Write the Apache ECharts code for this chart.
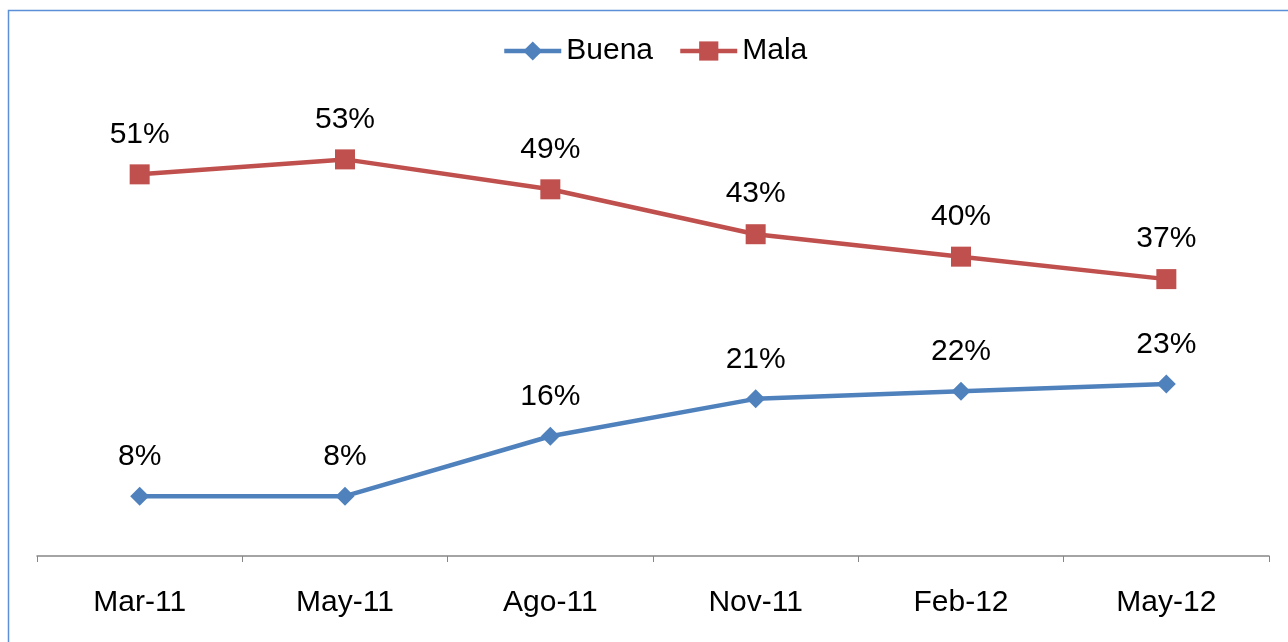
<!DOCTYPE html>
<html lang="es">
<head>
    <meta charset="utf-8" />
    <title>Buena / Mala</title>
    <script type="text/javascript" src="https://cdn.jsdelivr.net/npm/echarts@6/dist/echarts.min.js"></script>
    <style type="text/css">
        html, body { margin: 0; padding: 0; background: #fff; }
    </style>
</head>
<body>
    <div id="main" style="width:1288px;height:642px;"></div>

    <script type="text/javascript">
        var categories = ['Mar-11', 'May-11', 'Ago-11', 'Nov-11', 'Feb-12', 'May-12'];
        var buena = [8, 8, 16, 21, 22, 23];
        var mala = [51, 53, 49, 43, 40, 37];

        var font = 'Arial, "Liberation Sans", sans-serif';
        var myChart = echarts.init(document.getElementById('main'));

        var option = {
            animation: false,
            backgroundColor: '#fff',
            textStyle: { fontFamily: font },
            graphic: [{
                type: 'rect',
                shape: { x: 8.5, y: 10.5, width: 1400, height: 800 },
                style: { fill: 'none', stroke: '#5b8fd8', lineWidth: 1.5 },
                silent: true
            }],
            legend: {
                top: 31,
                left: 497,
                itemWidth: 57,
                itemHeight: 24,
                itemGap: 25,
                textStyle: { fontSize: 30, color: '#000', fontFamily: font },
                data: [
                    { name: 'Buena', lineStyle: { width: 4.5 } },
                    { name: 'Mala', lineStyle: { width: 4.5 } }
                ]
            },
            grid: {
                left: 37,
                right: 19,
                top: 107,
                bottom: 86,
                containLabel: false
            },
            xAxis: {
                type: 'category',
                data: categories,
                boundaryGap: true,
                axisLine: { lineStyle: { color: '#868686', width: 1.5 } },
                axisTick: { show: true, inside: false, length: 6, lineStyle: { color: '#868686' } },
                axisLabel: { fontSize: 30, color: '#000', margin: 32, fontFamily: font }
            },
            yAxis: {
                type: 'value',
                min: 0,
                max: 60,
                show: false,
                splitLine: { show: false }
            },
            series: [{
                name: 'Buena',
                type: 'line',
                data: buena,
                color: '#4f81bd',
                symbol: 'diamond',
                symbolSize: 19,
                lineStyle: { width: 4.5, color: '#4f81bd' },
                itemStyle: { color: '#4f81bd' },
                label: {
                    show: true,
                    position: 'top',
                    distance: 15,
                    fontSize: 30,
                    color: '#000',
                    fontFamily: font,
                    formatter: '{c}%'
                }
            }, {
                name: 'Mala',
                type: 'line',
                data: mala,
                color: '#c0504d',
                symbol: 'rect',
                symbolSize: 20,
                lineStyle: { width: 4.5, color: '#c0504d' },
                itemStyle: { color: '#c0504d' },
                label: {
                    show: true,
                    position: 'top',
                    distance: 15,
                    fontSize: 30,
                    color: '#000',
                    fontFamily: font,
                    formatter: '{c}%'
                }
            }]
        };
        myChart.setOption(option);
    </script>
</body>
</html>
